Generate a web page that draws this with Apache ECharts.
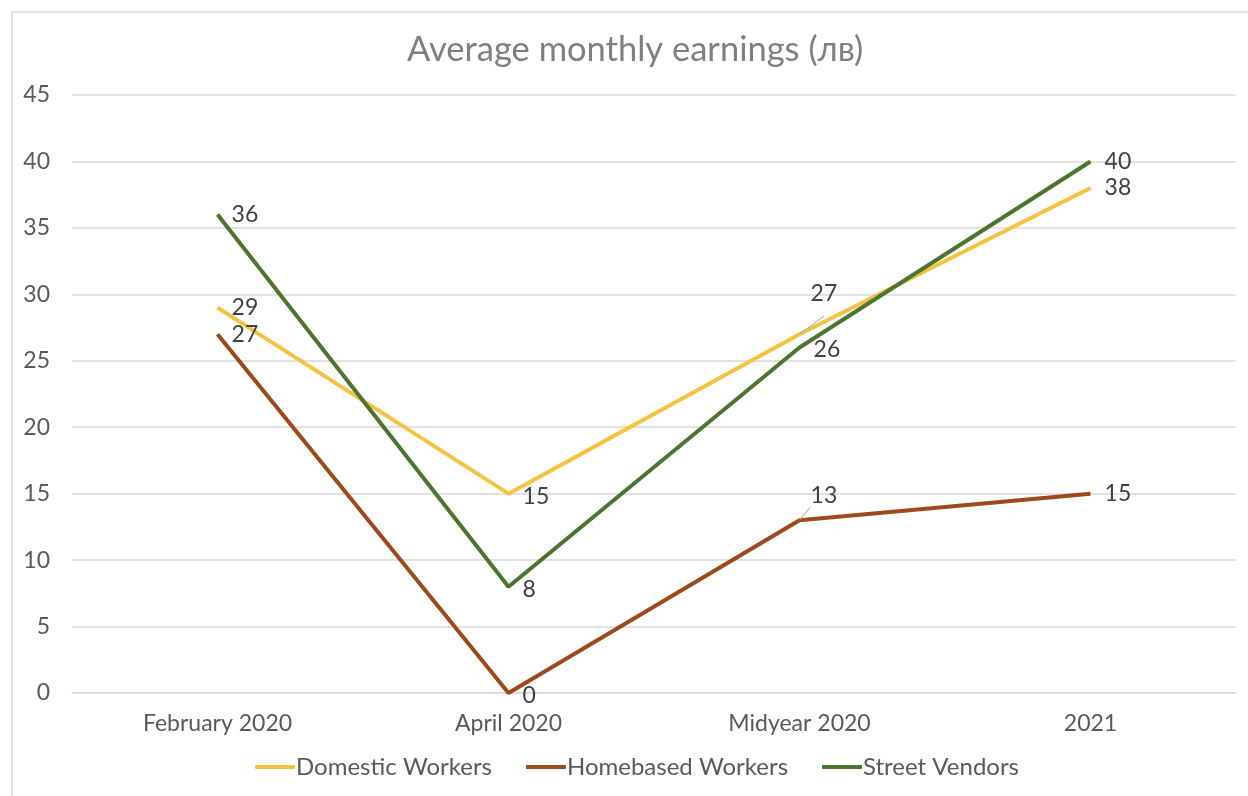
<!DOCTYPE html>
<html>
<head>
    <meta charset="utf-8" />
    <title>Average monthly earnings</title>
    <style>
        html, body { margin: 0; padding: 0; background: #fff; }
        #chart { width: 1248px; height: 796px; }
    </style>
</head>
<body>
    <div id="chart"></div>
    <script src="https://cdn.jsdelivr.net/npm/echarts@6/dist/echarts.min.js"></script>
    <script>
        var periods = ['February 2020', 'April 2020', 'Midyear 2020', '2021'];
        var domestic = [29, 15, 27, 38];
        var homebased = [27, 0, 13, 15];
        var vendors = [36, 8, 26, 40];

        var labelFont = { color: '#404040', fontSize: 23, fontFamily: 'Lato' };

        // nudges for single labels; a lifted one gets a leader line like in Excel
        function points(values, nudges) {
            return values.map(function (v, i) {
                var n = nudges[i];
                if (n == null) return v;
                var p = { value: v, label: { offset: [n[0], n[1]] } };
                if (n[2]) p.labelLine = { show: true };
                return p;
            });
        }

        function makeSeries(name, color, values, nudges) {
            return {
                name: name,
                type: 'line',
                data: points(values, nudges),
                symbol: 'circle',
                symbolSize: 0.1,
                showSymbol: true,
                lineStyle: { color: color, width: 4 },
                itemStyle: { color: color },
                label: Object.assign({ show: true, position: 'right', distance: 14 }, labelFont),
                labelLine: { lineStyle: { color: '#a6a6a6', width: 1 } }
            };
        }

        var chart = echarts.init(document.getElementById('chart'));
        chart.setOption({
            animation: false,
            graphic: [{
                type: 'rect',
                shape: { x: 12, y: 12, width: 1260, height: 820 },
                style: { fill: 'none', stroke: '#d9d9d9', lineWidth: 1.5 },
                silent: true
            }],
            title: {
                text: 'Average monthly earnings (лв)',
                left: 402,
                top: 27,
                textStyle: { color: '#7f7f7f', fontSize: 34.5, fontWeight: 'normal', fontFamily: 'Lato' }
            },
            legend: {
                bottom: 12,
                left: 250,
                itemWidth: 40,
                itemHeight: 4,
                itemGap: 34,
                icon: 'roundRect',
                textStyle: { color: '#595959', fontSize: 24, fontFamily: 'Lato', padding: [0, 0, 0, -4] },
                data: ['Domestic Workers', 'Homebased Workers', 'Street Vendors']
            },
            grid: { left: 72, right: 12, top: 95, bottom: 103 },
            xAxis: {
                type: 'category',
                data: periods,
                boundaryGap: true,
                axisLine: { lineStyle: { color: '#d9d9d9', width: 1.5 } },
                axisTick: { show: false },
                axisLabel: { color: '#595959', fontSize: 23, fontFamily: 'Lato', margin: 19 }
            },
            yAxis: {
                type: 'value',
                min: 0,
                max: 45,
                interval: 5,
                axisLine: { show: false },
                axisTick: { show: false },
                splitLine: { lineStyle: { color: '#d9d9d9', width: 1.5 } },
                axisLabel: { color: '#595959', fontSize: 23, fontFamily: 'Lato', margin: 22 }
            },
            series: [
                makeSeries('Domestic Workers', '#f5c242', domestic, [null, [0, 3], [-3, -41, true], null]),
                makeSeries('Homebased Workers', '#9c4a1b', homebased, [null, [0, 3], [-3, -25, true], null]),
                makeSeries('Street Vendors', '#4e7530', vendors, [null, [0, 3], [0, 2], null])
            ]
        });
    </script>
</body>
</html>
